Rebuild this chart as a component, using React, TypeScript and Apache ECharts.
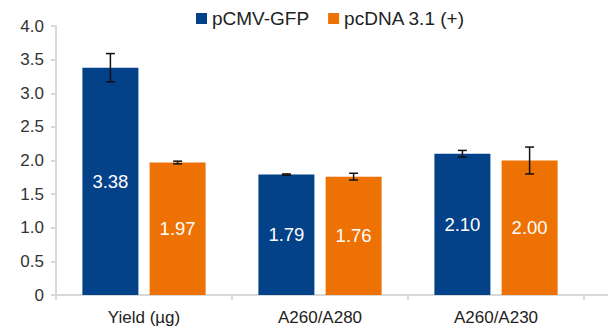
import React, { useEffect, useRef } from "react";
import * as echarts from "echarts";

const categories = ["Yield (µg)", "A260/A280", "A260/A230"];
const seriesNames = ["pCMV-GFP", "pcDNA 3.1 (+)"];
const gfpValues = [3.38, 1.79, 2.1];
const pcdnaValues = [1.97, 1.76, 2.0];
const gfpErrors = [0.21, 0.01, 0.05];
const pcdnaErrors = [0.02, 0.05, 0.2];

const BLUE = "#034189";
const ORANGE = "#ee7203";
const FONT = "Liberation Sans, Arial, sans-serif";
const BAR_CAT_GAP = 0.3;
const BAR_GAP = 0.2;

function errorSeries(values: number[], errs: number[], side: number) {
  return {
    type: "custom",
    silent: true,
    z: 10,
    data: values.map((v, i) => [i, v - errs[i], v + errs[i]]),
    renderItem: (params: any, api: any) => {
      const i = api.value(0);
      const lo = api.coord([i, api.value(1)]);
      const hi = api.coord([i, api.value(2)]);
      const catW = api.size([1, 0])[0];
      const barW = (catW * (1 - BAR_CAT_GAP)) / (2 + BAR_GAP);
      const x = lo[0] + side * (barW * (1 + BAR_GAP)) / 2;
      const cap = 4.5;
      const style = { stroke: "#111", lineWidth: 1.5 };
      return {
        type: "group",
        children: [
          { type: "line", shape: { x1: x, y1: lo[1], x2: x, y2: hi[1] }, style },
          { type: "line", shape: { x1: x - cap, y1: lo[1], x2: x + cap, y2: lo[1] }, style },
          { type: "line", shape: { x1: x - cap, y1: hi[1], x2: x + cap, y2: hi[1] }, style },
        ],
      };
    },
  };
}

export default function App() {
  const ref = useRef<HTMLDivElement>(null);
  useEffect(() => {
    if (!ref.current) return;
    const chart = echarts.init(ref.current, undefined, { renderer: "svg" });
    const labelCfg = {
      show: true,
      position: "inside",
      color: "#fff",
      fontSize: 18.5,
      fontFamily: FONT,
      formatter: (p: any) => Number(p.value).toFixed(2),
    };
    chart.setOption({
      animation: false,
      textStyle: { fontFamily: FONT },
      legend: {
        top: 4,
        left: 191,
        itemWidth: 11,
        itemHeight: 11,
        itemGap: 19,
        icon: "rect",
        textStyle: { fontSize: 19, color: "#222", fontFamily: FONT },
        data: seriesNames,
      },
      grid: { left: 56, right: 24, top: 26, bottom: 35 },
      xAxis: {
        type: "category",
        data: categories,
        axisLine: { show: true, lineStyle: { color: "#d9d9d9", width: 2 } },
        axisTick: { show: true, length: 5, lineStyle: { color: "#d9d9d9", width: 2 } },
        axisLabel: { fontSize: 17, color: "#222", margin: 14, fontFamily: FONT },
      },
      yAxis: {
        type: "value",
        min: 0,
        max: 4,
        interval: 0.5,
        splitLine: { show: false },
        axisLine: { show: true, lineStyle: { color: "#d9d9d9", width: 2 } },
        axisTick: { show: true, length: 5, lineStyle: { color: "#d9d9d9", width: 2 } },
        axisLabel: {
          fontSize: 17,
          color: "#333",
          margin: 12,
          fontFamily: FONT,
          formatter: (v: number) => (v === 0 ? "0" : v.toFixed(1)),
        },
      },
      graphic: [
        {
          type: "line",
          shape: { x1: 584, y1: 295, x2: 608, y2: 295 },
          style: { stroke: "#d9d9d9", lineWidth: 2 },
        },
      ],
      series: [
        {
          name: seriesNames[0],
          type: "bar",
          data: gfpValues,
          itemStyle: { color: BLUE },
          barGap: BAR_GAP * 100 + "%",
          barCategoryGap: BAR_CAT_GAP * 100 + "%",
          label: labelCfg,
        },
        {
          name: seriesNames[1],
          type: "bar",
          data: pcdnaValues,
          itemStyle: { color: ORANGE },
          barGap: BAR_GAP * 100 + "%",
          barCategoryGap: BAR_CAT_GAP * 100 + "%",
          label: labelCfg,
        },
        errorSeries(gfpValues, gfpErrors, -1),
        errorSeries(pcdnaValues, pcdnaErrors, 1),
      ],
    });
    return () => chart.dispose();
  }, []);
  return <div ref={ref} style={{ width: 608, height: 330, position: "absolute", left: 0, top: 0 }} />;
}
